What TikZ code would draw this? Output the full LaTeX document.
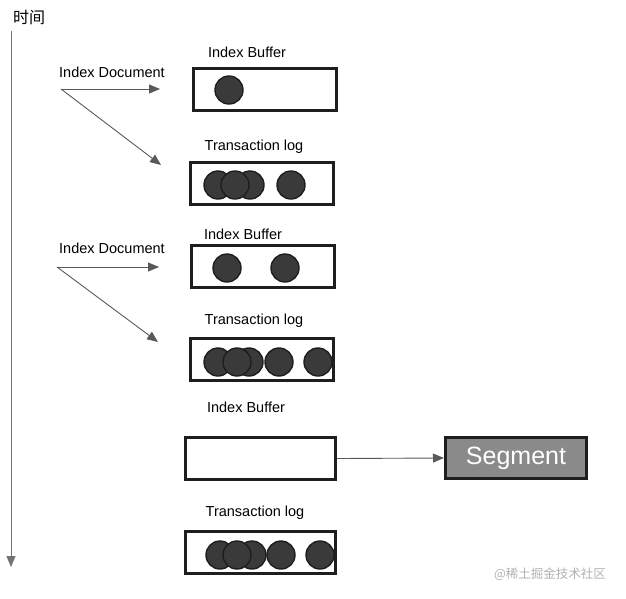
\documentclass[tikz,border=0pt]{standalone}
\usepackage{fontspec}
\setmainfont{Liberation Sans}
\newfontfamily\cjk{Noto Sans CJK SC}
\usetikzlibrary{arrows.meta}
\definecolor{ink}{HTML}{1E1E1E}
\definecolor{dotfill}{HTML}{3A3A3A}
\definecolor{segfill}{HTML}{8A8A8A}
\begin{document}
\begin{tikzpicture}[>={Triangle[length=11pt,width=9pt]},x=1pt,y=-1pt,
	lbl/.style={font=\fontsize{14.5}{16}\selectfont,inner sep=0pt},
	buf/.style={draw=ink,line width=3pt,minimum width=143pt,minimum height=42pt,inner sep=0pt},
	dot/.style={circle,draw=ink,line width=1.4pt,fill=dotfill,minimum size=28pt,inner sep=0pt},
	feed/.style={->,draw=black!65,line width=0.9pt}]
	\useasboundingbox (0,0) rectangle (626,598);
	% time axis
	\node[font=\cjk\fontsize{16}{18}\selectfont] (time) at (29,17) {时间};
	\coordinate (t0) at (11,31);
	\coordinate (t1) at (11,567);
	\draw[->,draw=black!55,line width=1pt] (t0) -- (t1);
	% first document
	\node[lbl] (doc1) at (112,72) {Index Document};
	\coordinate (d1) at (61,89);
	\coordinate (d1a) at (160,89);
	\coordinate (d1b) at (161,165);
	\draw[feed] (d1) -- (d1a);
	\draw[feed] (d1) -- (d1b);
	\node[lbl] (ib1) at (247,52) {Index Buffer};
	\node[buf] (buf1) at (264.5,89.5) {};
	\node[dot] (b1a) at (229,90) {};
	\node[lbl] (tl1) at (254,147) {Transaction log};
	\node[buf] (log1) at (262,183) {};
	\foreach \x/\n in {218/a,250/c,235/b,291/d}
		\node[dot] (l1\n) at (\x,185) {};
	% second document
	\node[lbl] (doc2) at (112,248) {Index Document};
	\coordinate (d2) at (57,267);
	\coordinate (d2a) at (159,267);
	\coordinate (d2b) at (158,342);
	\draw[feed] (d2) -- (d2a);
	\draw[feed] (d2) -- (d2b);
	\node[lbl] (ib2) at (243,234) {Index Buffer};
	\node[buf] (buf2) at (263,266) {};
	\foreach \x/\n in {227/a,285/b}
		\node[dot] (b2\n) at (\x,268) {};
	\node[lbl] (tl2) at (254,321) {Transaction log};
	\node[buf] (log2) at (262,359.5) {};
	\foreach \x/\n in {218/a,249/c,237/b,279/d,318/e}
		\node[dot] (l2\n) at (\x,362) {};
	% refresh
	\node[lbl] (ib3) at (246,407) {Index Buffer};
	\node[buf,minimum width=150pt] (buf3) at (260.5,458.5) {};
	\node[draw=ink,line width=3pt,fill=segfill,text=white,minimum width=141pt,minimum height=41pt,
		font=\fontsize{25}{28}\selectfont] (seg) at (516,458) {Segment};
	\draw[feed] (buf3.east) -- (seg.west);
	\node[lbl] (tl3) at (255,513) {Transaction log};
	\node[buf,minimum width=150pt] (log3) at (260.5,552) {};
	\foreach \x/\n in {220/a,252/c,237/b,281/d,320/e}
		\node[dot] (l3\n) at (\x,555) {};
	\node[font=\cjk\fontsize{12.5}{14}\selectfont,text=black!30,inner sep=0pt] (mark) at (550,574) {@稀土掘金技术社区};
\end{tikzpicture}
\end{document}
